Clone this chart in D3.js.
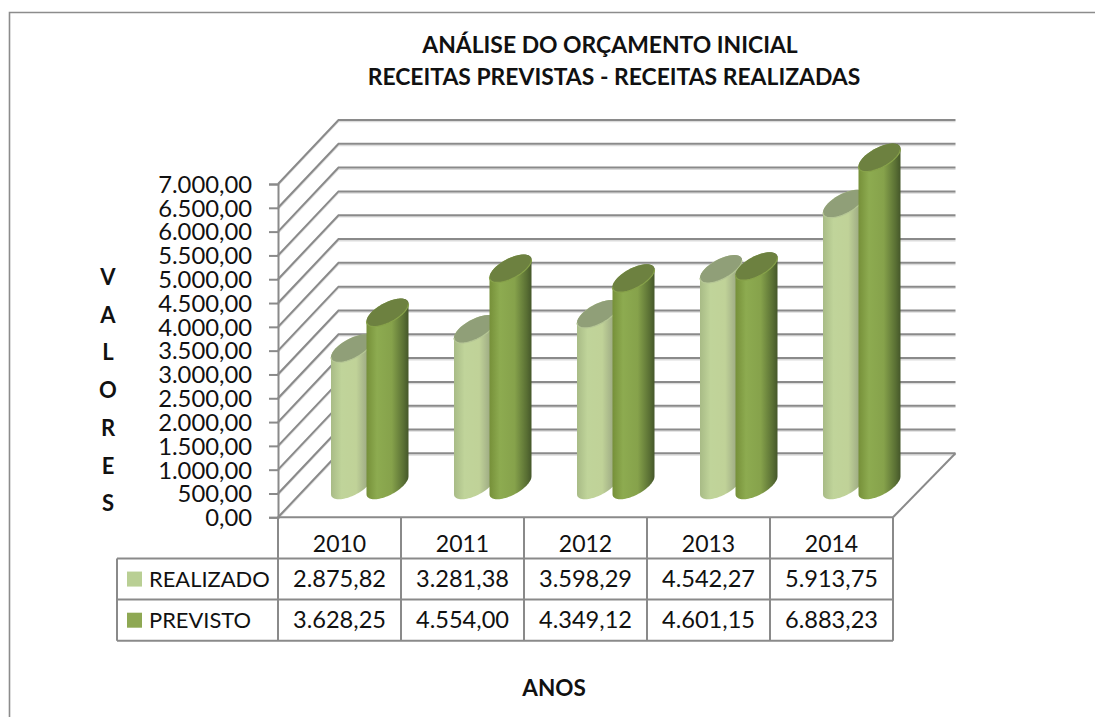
<!DOCTYPE html>
<html><head><meta charset="utf-8">
<script src="https://cdn.jsdelivr.net/npm/d3@7"></script>
<style>html,body{margin:0;padding:0;background:#fff;overflow:hidden}svg{display:block}text{font-family:Lato,"Open Sans",sans-serif;fill:#111}</style>
</head><body><svg id="c" width="1095" height="717"></svg>
<script>
const years = ["2010","2011","2012","2013","2014"];
const seriesNames = ["REALIZADO","PREVISTO"];
const realizado = [2875.82,3281.38,3598.29,4542.27,5913.75];
const previsto = [3628.25,4554.00,4349.12,4601.15,6883.23];
const tickValues = [0,500,1000,1500,2000,2500,3000,3500,4000,4500,5000,5500,6000,6500,7000];
const titleLines = ["ANÁLISE DO ORÇAMENTO INICIAL","RECEITAS PREVISTAS - RECEITAS REALIZADAS"];
const yTitle = ["V","A","L","O","R","E","S"];
const xTitle = "ANOS";

const L = 278, R = 893, T = 184, B = 517.3, DX = 60.5, DY = -64;
const lineCol = "#8a8a8a", shadowCol = "#dcdcdc";
const fmt = d3.formatLocale({decimal:",",thousands:".",grouping:[3],currency:["",""]}).format(",.2f");
const svg = d3.select("#c");
const x = d3.scaleBand().domain(years).range([L,R]);
const y = d3.scaleLinear().domain([0,7000]).range([B,T]);
const inner = d3.scalePoint().domain(seriesNames).range([-17.75,17.75]);
const values = {REALIZADO:realizado, PREVISTO:previsto};

// frame (clipped at the right and the bottom)
svg.append("path").attr("d","M9.5,717V12.5H1095").attr("fill","none").attr("stroke","#8c8c8c").attr("stroke-width",1.6);

// title
const titleX = [610,614];
titleLines.forEach((t,i)=>svg.append("text").attr("x",titleX[i]).attr("y",53+i*32).attr("text-anchor","middle")
  .attr("font-size",22.9).attr("font-weight",700).text(t));

// walls and floor
const grid = svg.append("g").attr("fill","none");
const wall = v => `M${L},${y(v)}L${L+DX},${y(v)+DY}H${L+DX+(R-L)+2}`;
[[shadowCol,1.5,1.6],[lineCol,2,0]].forEach(([c,w,o])=>{
  grid.append("g").attr("transform",`translate(0,${o})`).selectAll("path").data(tickValues).join("path")
    .attr("d",wall).attr("stroke",c).attr("stroke-width",w);
});
grid.append("path").attr("d",`M${R+DX+2},${y(0)+DY}L${R},${y(0)}`).attr("stroke",lineCol).attr("stroke-width",2);

// y axis
const yAxis = svg.append("g").attr("transform",`translate(${L},0)`)
  .call(d3.axisLeft(y).tickValues(tickValues).tickFormat(fmt).tickSize(9).tickPadding(17));
yAxis.selectAll("path,line").attr("stroke",lineCol).attr("stroke-width",2);
yAxis.selectAll("text").attr("font-size",23.8).attr("font-family","Lato").attr("fill","#111").attr("dy","0.35em");

// gradients
const defs = svg.append("defs");
const grads = {
  REALIZADO:[[0,"#a8bb86"],[.25,"#c0d49a"],[.6,"#c0d298"],[.85,"#a0ad85"],[1,"#8a9474"]],
  PREVISTO:[[0,"#769039"],[.25,"#8dab50"],[.6,"#86a24b"],[.88,"#5a7034"],[1,"#45572a"]]
};
seriesNames.forEach(s=>{
  const g = defs.append("linearGradient").attr("id","g"+s);
  g.selectAll("stop").data(grads[s]).join("stop").attr("offset",d=>d[0]).attr("stop-color",d=>d[1]);
});
const topFill = {REALIZADO:"#909f78",PREVISTO:"#6d8140"};
const topEdge = {REALIZADO:"#b5c695",PREVISTO:"#87a24a"};
const swatch = {REALIZADO:"#b9cf94",PREVISTO:"#8ea853"};

// cylinders
const Rad = 21, ey = 14, ex = ey*DX/-DY, rx = Math.sqrt(Rad*Rad-ex*ex), t0 = Math.atan2(ex,rx);
const pt = (c,t)=>[c[0]+rx*Math.cos(t)+ex*Math.sin(t), c[1]-ey*Math.sin(t)];
const arc = (c,a,b)=>d3.range(0,41).map(i=>pt(c,a+(b-a)*i/40));
const line = d3.line();
const bars = svg.append("g");
years.forEach((yr,i)=>seriesNames.forEach(s=>{
  const cx = x(yr)+x.bandwidth()/2+DX/2+inner(s), base=[cx,y(0)+DY/2], top=[cx,y(values[s][i])+DY/2];
  const front = arc(base,t0+Math.PI,t0+2*Math.PI), back = arc(top,t0,t0+Math.PI);
  bars.append("path").attr("d",line(front.concat(back))+"Z").attr("fill",`url(#g${s})`);
  bars.append("path").attr("d",line(arc(top,0,2*Math.PI))+"Z").attr("fill",topFill[s]);
  bars.append("path").attr("d",line(arc(top,t0+Math.PI,t0+2*Math.PI))).attr("fill","none").attr("stroke",topEdge[s]).attr("stroke-width",1.2);
}));

// data table
const rowY = d3.scaleBand().domain(["head",...seriesNames]).range([B,640.7]);
const tbl = svg.append("g").attr("stroke",lineCol).attr("stroke-width",2).attr("fill","none");
tbl.append("path").attr("d",`M${L},${B}H${R}`);
[...years.map(d=>x(d)),R].forEach(px=>tbl.append("path").attr("d",`M${px},${B}V${rowY.range()[1]}`));
seriesNames.forEach(s=>tbl.append("path").attr("d",`M117,${rowY(s)}H${R}`));
tbl.append("path").attr("d",`M117,${rowY.range()[1]}H${R}M117,${rowY("REALIZADO")}V${rowY.range()[1]}`);
const cx = d=>x(d)+x.bandwidth()/2;
years.forEach(yr=>svg.append("text").attr("x",cx(yr)).attr("y",rowY("head")+35).attr("text-anchor","middle").attr("font-size",23).text(yr));
seriesNames.forEach(s=>{
  const by = rowY(s)+rowY.bandwidth()-13;
  svg.append("rect").attr("x",127).attr("y",by-15).attr("width",15).attr("height",15).attr("fill",swatch[s]);
  svg.append("text").attr("x",149).attr("y",by).attr("font-size",21.9).text(s);
  years.forEach((yr,i)=>svg.append("text").attr("x",cx(yr)).attr("y",by).attr("text-anchor","middle").attr("font-size",23.6).text(fmt(values[s][i])));
});

// axis titles
yTitle.forEach((ch,i)=>svg.append("text").attr("x",108).attr("y",285+i*37.7).attr("text-anchor","middle").attr("font-size",22).attr("font-weight",700).text(ch));
svg.append("text").attr("x",554).attr("y",696).attr("text-anchor","middle").attr("font-size",22.5).attr("font-weight",700).text(xTitle);
</script></body></html>
